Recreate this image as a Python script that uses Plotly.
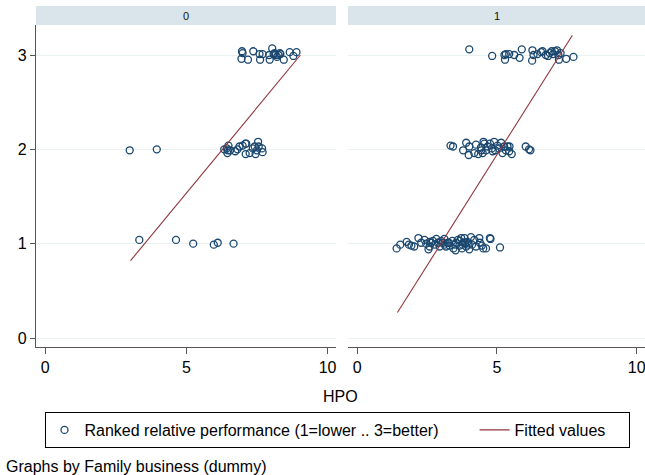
import plotly.graph_objects as go

# ---------------- data ----------------
# Group 0 (Family business = 0)
hpo0_r3 = [6.97, 6.99, 6.95, 7.18, 7.37, 7.59, 7.70, 7.61, 7.93, 7.95, 8.04, 8.09,
           8.12, 8.16, 8.21, 8.26, 8.31, 8.33, 8.45, 8.66, 8.79, 8.90]
rank0_r3 = [3.04, 3.02, 2.96, 2.95, 3.04, 3.01, 3.01, 2.95, 3.00, 2.95, 3.07, 3.01,
            3.02, 3.00, 2.98, 3.00, 3.02, 3.01, 2.95, 3.03, 2.99, 3.03]
hpo0_r2 = [2.99, 3.95, 6.34, 6.43, 6.49, 6.47, 6.45, 6.55, 6.73, 6.81, 6.88, 6.99,
           7.09, 7.12, 7.10, 7.24, 7.35, 7.42, 7.54, 7.45, 7.50, 7.68, 7.70, 7.56]
rank0_r2 = [1.99, 2.00, 2.00, 2.01, 2.04, 1.99, 1.96, 1.99, 1.98, 2.00, 2.03, 2.04,
            2.06, 2.06, 1.95, 1.96, 2.01, 2.03, 2.08, 1.95, 1.99, 2.01, 1.97, 2.03]
hpo0_r1 = [3.33, 4.63, 5.24, 5.97, 6.11, 6.67]
rank0_r1 = [1.04, 1.04, 1.00, 0.99, 1.01, 1.00]

# Group 1 (Family business = 1)
hpo1_r3 = [4.01, 4.83, 5.27, 5.29, 5.32, 5.44, 5.62, 5.81, 5.89, 6.27, 6.26, 6.31,
           6.45, 6.58, 6.63, 6.75, 6.83, 6.89, 6.96, 7.01, 7.08, 7.15, 7.20, 7.22,
           7.28, 7.48, 7.74]
rank1_r3 = [3.06, 2.99, 3.00, 2.95, 3.01, 3.01, 3.00, 2.97, 3.06, 3.05, 2.94, 3.00,
            3.01, 3.03, 3.04, 3.00, 2.99, 3.02, 3.04, 3.01, 3.04, 3.05, 3.00, 2.95,
            3.02, 2.96, 2.98]
hpo1_r2 = [3.34, 3.43, 3.79, 3.90, 4.01, 3.99, 4.19, 4.25, 4.33, 4.43, 4.49, 4.52,
           4.55, 4.61, 4.67, 4.75, 4.82, 4.90, 4.94, 5.02, 5.08, 5.15, 5.20, 5.26,
           5.32, 5.38, 5.44, 5.53, 5.45, 6.03, 6.15, 6.20, 4.85, 4.44]
rank1_r2 = [2.04, 2.03, 1.99, 2.07, 2.03, 1.94, 1.96, 2.05, 1.95, 2.02, 1.96, 2.08,
            2.06, 1.99, 2.03, 2.06, 2.01, 2.08, 1.99, 2.04, 2.01, 2.07, 1.96, 2.03,
            1.99, 2.03, 1.98, 1.95, 2.03, 2.03, 2.00, 1.99, 1.98, 1.99]
hpo1_r1 = [1.41, 1.54, 1.77, 1.85, 1.94, 2.04, 2.19, 2.29, 2.41, 2.47, 2.55, 2.59,
           2.71, 2.77, 2.83, 2.89, 2.95, 3.06, 3.12, 3.18, 3.24, 3.30, 3.40, 3.44,
           3.52, 3.54, 3.60, 3.66, 3.72, 3.75, 3.80, 3.84, 3.90, 3.95, 4.01, 4.07,
           4.11, 4.19, 4.25, 4.37, 4.39, 4.46, 4.51, 4.61, 4.75, 4.77, 5.11, 2.59,
           3.00, 3.28, 3.68, 3.77, 3.86, 3.98, 3.49, 3.12, 2.65]
rank1_r1 = [0.95, 0.99, 1.02, 0.99, 0.98, 0.97, 1.06, 1.01, 1.04, 1.00, 0.94, 1.02,
            1.03, 0.99, 1.05, 1.01, 0.97, 1.01, 0.99, 0.97, 1.01, 0.98, 1.03, 0.95,
            0.93, 1.01, 1.04, 0.98, 1.06, 0.95, 1.01, 1.06, 0.97, 1.02, 0.94, 1.07,
            0.99, 1.04, 0.97, 1.06, 1.01, 0.98, 0.95, 0.95, 1.06, 1.05, 0.96, 0.97,
            1.03, 1.01, 1.03, 0.99, 1.01, 0.99, 0.99, 1.05, 1.01]

# Fitted values (linear fit endpoints)
fit0_x = [3.02, 9.04]
fit0_y = [0.82, 3.00]
fit1_x = [1.44, 7.70]
fit1_y = [0.27, 3.21]

panel_labels = ["0", "1"]
x_ticks = [0, 5, 10]
y_ticks = [0, 1, 2, 3]
x_title = "HPO"
legend_names = ["Ranked relative performance (1=lower .. 3=better)", "Fitted values"]
note_text = "Graphs by Family business (dummy)"

# ---------------- styling ----------------
W, H = 645, 475
NAVY = "#1a476f"
MAROON = "#90353b"
GRID = "#e9f1f3"
AXIS = "#555555"
STRIP = "#d9e5eb"
FONT = "Liberation Sans, Arial, Helvetica, sans-serif"
NB = "\u00a0"

def px_x(p):
    return p / W

def px_y(p):
    return 1 - p / H

left_dom = [px_x(36), px_x(336)]
right_dom = [px_x(348), px_x(645)]
y_dom = [px_y(347), px_y(25)]

fig = go.Figure()

marker = dict(symbol="circle-open", size=7, color=NAVY, line=dict(width=1.3, color=NAVY))

x0 = hpo0_r3 + hpo0_r2 + hpo0_r1
y0 = rank0_r3 + rank0_r2 + rank0_r1
x1 = hpo1_r3 + hpo1_r2 + hpo1_r1
y1 = rank1_r3 + rank1_r2 + rank1_r1

fig.add_trace(go.Scatter(x=x0, y=y0, mode="markers", marker=marker,
                         name=legend_names[0] + NB * 7, xaxis="x", yaxis="y",
                         legendgroup="a", showlegend=True))
fig.add_trace(go.Scatter(x=fit0_x, y=fit0_y, mode="lines",
                         line=dict(color=MAROON, width=1.1),
                         name=legend_names[1] + NB * 4, xaxis="x", yaxis="y",
                         legendgroup="b", showlegend=True))
fig.add_trace(go.Scatter(x=x1, y=y1, mode="markers", marker=marker,
                         name=legend_names[0], xaxis="x2", yaxis="y2",
                         legendgroup="a", showlegend=False))
fig.add_trace(go.Scatter(x=fit1_x, y=fit1_y, mode="lines",
                         line=dict(color=MAROON, width=1.1),
                         name=legend_names[1], xaxis="x2", yaxis="y2",
                         legendgroup="b", showlegend=False))

xaxis_common = dict(range=[-0.33, 10.3], tickvals=x_ticks, ticks="outside", ticklen=6,
                    tickwidth=1, tickcolor=AXIS, showline=True, linecolor=AXIS,
                    linewidth=1.2, showgrid=False, zeroline=False,
                    ticklabeloverflow="allow",
                    tickfont=dict(family=FONT, size=16, color="black"))
yaxis_common = dict(range=[-0.095, 3.318], tickvals=y_ticks, showgrid=True,
                    gridcolor=GRID, gridwidth=1, zeroline=False, domain=y_dom)

fig.update_layout(
    width=W, height=H,
    margin=dict(l=0, r=0, t=0, b=0),
    paper_bgcolor="white", plot_bgcolor="white",
    font=dict(family=FONT, size=16, color="black"),
    xaxis=dict(domain=left_dom, anchor="y", **xaxis_common),
    xaxis2=dict(domain=right_dom, anchor="y2", **xaxis_common),
    yaxis=dict(anchor="x", showline=True, linecolor=AXIS, linewidth=1.2,
               ticks="outside", ticklen=5, tickcolor=AXIS,
               tickfont=dict(family=FONT, size=16, color="black"), **yaxis_common),
    yaxis2=dict(anchor="x2", showline=False, showticklabels=False, ticks="",
                **yaxis_common),
    showlegend=True,
    legend=dict(orientation="h", x=px_x(337), xanchor="center",
                y=px_y(430), yanchor="middle",
                bordercolor="black", borderwidth=1, bgcolor="white",
                font=dict(family=FONT, size=16, color="black"),
                itemwidth=30, tracegroupgap=0),
)

# strip headers
for dom, lab in zip([left_dom, right_dom], panel_labels):
    fig.add_shape(type="rect", xref="paper", yref="paper",
                  x0=dom[0], x1=dom[1], y0=px_y(25), y1=px_y(6),
                  fillcolor=STRIP, line=dict(width=0), layer="below")
    fig.add_annotation(text=lab, xref="paper", yref="paper",
                       x=(dom[0] + dom[1]) / 2, y=px_y(15.5),
                       showarrow=False, xanchor="center", yanchor="middle",
                       font=dict(family=FONT, size=11, color="#111111"))

fig.add_annotation(text=x_title, xref="paper", yref="paper", x=px_x(340), y=px_y(396),
                   showarrow=False, xanchor="center", yanchor="middle",
                   font=dict(family=FONT, size=16, color="black"))
fig.add_annotation(text=note_text, xref="paper", yref="paper", x=px_x(4), y=px_y(466),
                   showarrow=False, xanchor="left", yanchor="middle",
                   font=dict(family=FONT, size=16, color="black"))

fig.write_html(
    "out.html",
    config={"displayModeBar": False},
    post_script="document.body.style.margin='0';document.body.style.padding='0';"
                "document.body.style.overflow='hidden';",
)
